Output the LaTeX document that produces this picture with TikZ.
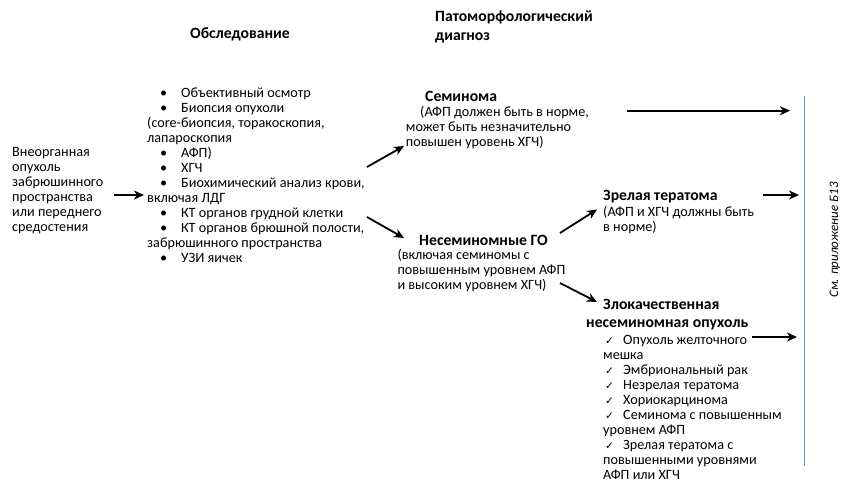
\documentclass[tikz,border=0pt]{standalone}
\usepackage{fontspec}
\setmainfont{Carlito}
\newfontfamily\symfont{DejaVu Sans}
\usetikzlibrary{arrows.meta}

\newcommand{\bul}{\makebox[34pt][l]{\hspace{13pt}\textbullet}}
\newcommand{\chk}{\makebox[20pt][l]{\hspace{2pt}{\symfont\fontsize{10.5}{10}\selectfont ✓}}}

\tikzset{
	txt/.style={anchor=north west, inner sep=0pt, align=left, font=\fontsize{14.2}{15}\selectfont},
	ttl/.style={anchor=north west, inner sep=0pt, align=left, font=\fontsize{15.7}{18.7}\selectfont\bfseries},
	arr/.style={-{Stealth[length=10pt,width=9pt,inset=3pt]}, line width=1.8pt},
}

\begin{document}
\begin{tikzpicture}[x=1pt,y=-1pt]

\useasboundingbox (0,0) rectangle (844,482);

% column heads
\node[ttl] (head1) at (190,25.2) {\strut Обследование};
\node[ttl] (head2) at (435,8.5) {\strut Патоморфологический\\диагноз};

\node[txt] (tumor) at (12,145.7) {\strut Внеорганная\\опухоль\\забрюшинного\\пространства\\или переднего\\средостения};

\node[txt] (exam) at (147,87) {\strut\bul Объективный осмотр\\
\bul Биопсия опухоли\\
(core-биопсия, торакоскопия,\\
лапароскопия\\
\bul АФП)\\
\bul ХГЧ\\
\bul Биохимический анализ крови,\\
включая ЛДГ\\
\bul КТ органов грудной клетки\\
\bul КТ органов брюшной полости,\\
забрюшинного пространства\\
\bul УЗИ яичек};

\node[ttl] (sem) at (425,88) {\strut Семинома};
\node[txt] (semtxt) at (405.7,105.7) {\strut\hspace*{14.3pt}(АФП должен быть в норме,\\может быть незначительно\\повышен уровень ХГЧ)};

\node[ttl] (nsgo) at (419,232.6) {\strut Несеминомные ГО};
\node[txt] (nsgotxt) at (397.3,248.3) {\strut(включая семиномы с\\повышенным уровнем АФП\\и высоким уровнем ХГЧ)};

\node[ttl] (mter) at (603,187) {\strut Зрелая тератома};
\node[txt] (mtertxt) at (603,206) {\strut(АФП и ХГЧ должны быть\\в норме)};

\node[ttl, font=\fontsize{15.7}{17.3}\selectfont\bfseries] (malig) at (586,297.5) {\strut\hspace*{17pt}Злокачественная\\несеминомная опухоль};
\node[txt] (maligtxt) at (603,334) {\strut\chk Опухоль желточного\\
мешка\\
\chk Эмбриональный рак\\
\chk Незрелая тератома\\
\chk Хориокарцинома\\
\chk Семинома с повышенным\\
уровнем АФП\\
\chk Зрелая тератома с\\
повышенными уровнями\\
АФП или ХГЧ};

% appendix bar
\coordinate (bartop) at (804.5,96);
\coordinate (barbot) at (804.5,466);
\draw[color={rgb,255:red,120;green,155;blue,200}, line width=1.8pt] (bartop)--(barbot);
\node[rotate=90, inner sep=0pt, font=\fontsize{13}{15}\selectfont\itshape] (appx) at (835,240) {См. приложение Б13};

% arrows
\coordinate (a0s) at (114,195);   \coordinate (a0e) at (144,195);
\coordinate (a1s) at (367,167);   \coordinate (a1e) at (404,146);
\coordinate (a2s) at (367,217);   \coordinate (a2e) at (404,238);
\coordinate (a3s) at (627,110.7); \coordinate (a3e) at (790,110.7);
\coordinate (a4s) at (560,233);   \coordinate (a4e) at (597,209.5);
\coordinate (a5s) at (763,195);   \coordinate (a5e) at (799,195);
\coordinate (a6s) at (560,283);   \coordinate (a6e) at (597,302);
\coordinate (a7s) at (752,337);   \coordinate (a7e) at (797,337);

\foreach \a in {0,...,7}{
	\draw[arr] (a\a s)--(a\a e);
}

\end{tikzpicture}
\end{document}
